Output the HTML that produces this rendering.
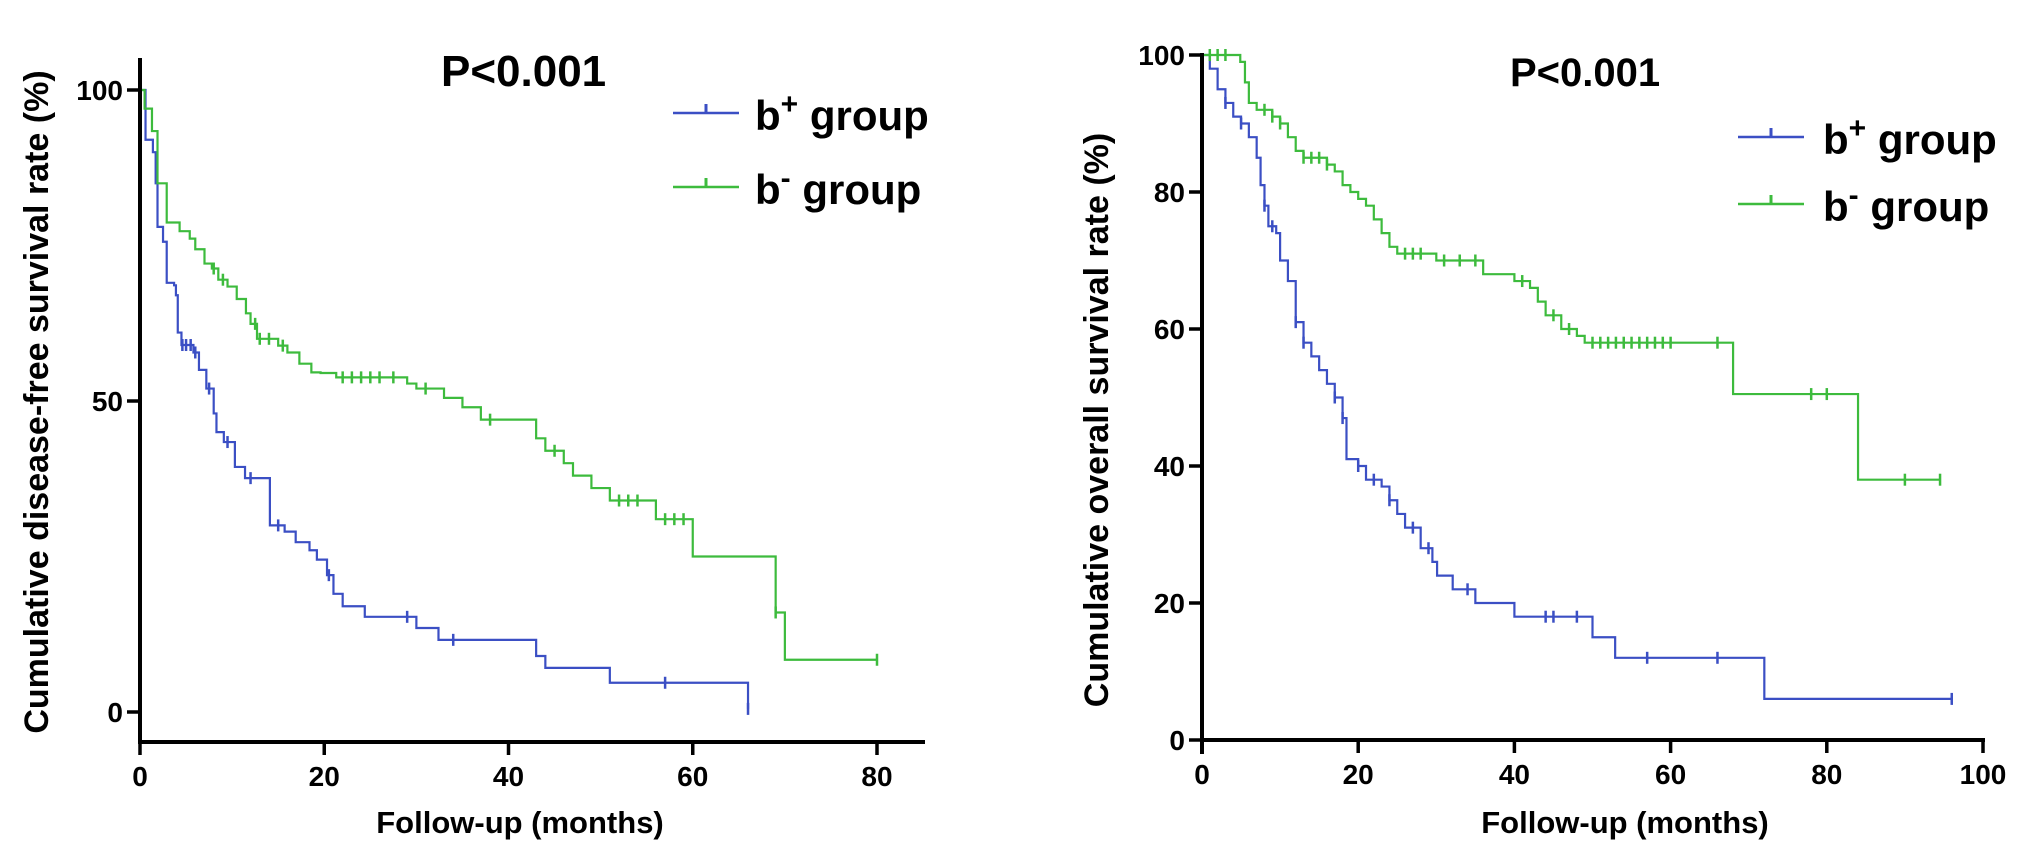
<!DOCTYPE html>
<html><head><meta charset="utf-8"><style>
html,body{margin:0;padding:0;background:#fff;}
svg{display:block;font-family:"Liberation Sans",Arial,sans-serif;font-weight:bold;}
</style></head><body>
<svg id="chart" width="2031" height="849" viewBox="0 0 2031 849" xmlns="http://www.w3.org/2000/svg">
<g id="left"></g>
<g id="right"></g>
</svg>
<script>
// ---- Left chart data (disease-free survival) ----
const dfsBlueTimes = [0.6,1.4,1.7,1.9,2.5,2.9,3.7,3.9,4.1,4.5,5.8,6.4,7.2,8,8.3,9.1,10.3,11.4,14.1,15.7,16.9,18.4,19.2,20.3,21,22,24.4,30,32.4,43,44,51,66];
const dfsBlueSurv  = [92,90,85,78,75.6,69,68.6,67,61,59,57.8,55,52,48,45,43.4,39.4,37.6,30,29,27.3,26,24.5,22,19,17,15.3,13.5,11.6,9,7.1,4.7,0.5];
const dfsBlueEnd = 66;
const dfsBlueCensor = [4.6,5,5.5,6,7.5,9.5,12,15,20.5,29,34,57,66];
const dfsGreenTimes = [0.5,1.3,1.9,2.9,4.3,5.4,6,7,7.8,8.5,9.5,10.5,11.5,12,12.7,15,16,17.3,18.6,19.6,21.3,29,30,33,35,37,43,44,46,47,49,51,56,60,69,70];
const dfsGreenSurv  = [97,93.4,85,78.7,77.3,76.1,74.4,72.1,71.3,69.5,68.4,66.4,64.1,62.4,60,58.9,57.8,56,54.6,54.5,53.8,52.8,52,50.5,49,47,44,42,40,38,36,34,31,25,16,8.4];
const dfsGreenEnd = 80;
const dfsGreenCensor = [8,9,12.5,13,14,15.5,22,23,24,25,26,27.5,31,38,45,52,53,54,57,58,59,69,80];
const dfsXTicks = [0,20,40,60,80];
const dfsYTicks = [0,50,100];
// ---- Right chart data (overall survival) ----
const osBlueTimes = [1,2,3,4,5,6,7,7.5,8,8.5,9.5,10,11,12,13,14,15,16,17,18,18.5,20,21,23,24,25,26,28,29.5,30.1,32.1,35,40,50,52.9,72];
const osBlueSurv  = [98,95,93,91,90,88,85,81,78,75,74,70,67,61,58,56,54,52,50,47,41,40,38,37,35,33,31,28,26,24,22,20,18,15,12,6];
const osBlueEnd = 96;
const osBlueCensor = [3,5,8,9,12,13,17,18,20,22,24,27,29,34,44,45,48,57,66,96];
const osGreenTimes = [4.9,5.5,6,7,9,10,11,12,13,16,17,18,19,20,21,22,23,24,25,30,36,40,42,43,44,46,48,49,68,84];
const osGreenSurv  = [99,96,93,92,91,90,88,86,85,84,83,81,80,79,78,76,74,72,71,70,68,67,66,64,62,60,59,58,50.5,38];
const osGreenEnd = 94.5;
const osGreenCensor = [1,2,3,8,9,10,13,14,15,16,26,27,28,31,33,35,41,45,47,50,51,52,53,54,55,56,57,58,59,60,66,78,80,90,94.5];
const osXTicks = [0,20,40,60,80,100];
const osYTicks = [0,20,40,60,80,100];

const NS = "http://www.w3.org/2000/svg";
const BLUE = "#3b4fc4", GREEN = "#3dbb3d";
function mk(parent, tag, attrs){ const e=document.createElementNS(NS,tag); for(const k in attrs) e.setAttribute(k,attrs[k]); parent.appendChild(e); return e; }
function survAt(times,surv,t){ let s=100; for(let i=0;i<times.length;i++){ if(times[i]<=t) s=surv[i]; } return s; }

function drawChart(g, cfg){
  const X = t => cfg.x0 + t*(cfg.x1-cfg.x0)/cfg.xMax;
  const Y = s => cfg.yZero - s*(cfg.yZero-cfg.yTop)/100;
  cfg.series.forEach(se=>{
    let d = "M"+X(0)+","+Y(100);
    for(let i=0;i<se.times.length;i++){ d += " H"+X(se.times[i])+" V"+Y(se.surv[i]); }
    d += " H"+X(se.end);
    const p = mk(g,"path",{d:d,fill:"none",stroke:se.color,"stroke-width":2.2});
    
    
    se.censor.forEach(t=>{
      const s = survAt(se.times,se.surv,t);
      const c = mk(g,"line",{x1:X(t),x2:X(t),y1:Y(s)-6,y2:Y(s)+6,stroke:se.color,"stroke-width":2.5});
      
      
    });
  });
  const ya = mk(g,"line",{x1:cfg.x0,x2:cfg.x0,y1:cfg.yAxisTop,y2:cfg.yAxisBottom,stroke:"#000","stroke-width":4});
   
  const xa = mk(g,"line",{x1:cfg.x0-2,x2:cfg.xAxisEnd,y1:cfg.xAxisY,y2:cfg.xAxisY,stroke:"#000","stroke-width":4});
   
  cfg.yTicks.forEach(v=>{
    const l = mk(g,"line",{x1:cfg.x0-13,x2:cfg.x0,y1:Y(v),y2:Y(v),stroke:"#000","stroke-width":3.5});
     
    const t = mk(g,"text",{x:cfg.x0-17,y:Y(v)+10,"text-anchor":"end","font-size":28});
    t.textContent = v;
     
  });
  cfg.xTicks.forEach(v=>{
    const l = mk(g,"line",{x1:X(v),x2:X(v),y1:cfg.xAxisY,y2:cfg.xAxisY+13,stroke:"#000","stroke-width":3.5});
     
    const t = mk(g,"text",{x:X(v),y:cfg.xAxisY+44,"text-anchor":"middle","font-size":28});
    t.textContent = v;
     
  });
  const xt = mk(g,"text",{x:cfg.xTitleX,y:833,"text-anchor":"middle","font-size":31});
  xt.textContent = "Follow-up (months)";
   
  const yt = mk(g,"text",{x:0,y:0,"text-anchor":"middle","font-size":34,transform:"translate("+cfg.yTitleX+","+cfg.yTitleY+") rotate(-90)"});
  yt.textContent = cfg.yTitle;
   
  const pv = mk(g,"text",{x:cfg.pX,y:cfg.pY,"font-size":cfg.pSize});
  pv.textContent = "P<0.001";
   
  cfg.series.forEach((se,i)=>{
    const ly = cfg.legY[i];
    const lg = mk(g,"g",{});
     
    mk(lg,"line",{x1:cfg.legX,x2:cfg.legX+cfg.legLen,y1:ly,y2:ly,stroke:se.color,"stroke-width":2.5});
    mk(lg,"line",{x1:cfg.legX+cfg.legLen/2,x2:cfg.legX+cfg.legLen/2,y1:ly-9,y2:ly,stroke:se.color,"stroke-width":3});
    const t = mk(lg,"text",{x:cfg.legTextX,y:ly+17,"font-size":42});
    const b = document.createElementNS(NS,"tspan"); b.textContent="b"; t.appendChild(b);
    const sup = document.createElementNS(NS,"tspan"); sup.setAttribute("dy","-16"); sup.setAttribute("font-size","30"); sup.textContent = se.sign; t.appendChild(sup);
    const rest = document.createElementNS(NS,"tspan"); rest.setAttribute("dy","16"); rest.textContent = se.sign==="+" ? " group" : "  group"; t.appendChild(rest);
  });
}

drawChart(document.getElementById("left"),{
  x0:140, x1:877, xMax:80, yTop:90, yZero:712, yAxisTop:58, yAxisBottom:744, xAxisY:742, xAxisEnd:925,
  xTicks:dfsXTicks, yTicks:dfsYTicks, xTitleX:520, yTitleX:48, yTitleY:402,
  yTitle:"Cumulative disease-free survival rate (%)", pX:441, pY:86, pSize:44,
  legX:673, legLen:66, legTextX:755, legY:[113,187],
  series:[
    {name:"b-plus",sign:"+",color:BLUE,times:dfsBlueTimes,surv:dfsBlueSurv,end:dfsBlueEnd,censor:dfsBlueCensor},
    {name:"b-minus",sign:"-",color:GREEN,times:dfsGreenTimes,surv:dfsGreenSurv,end:dfsGreenEnd,censor:dfsGreenCensor}
  ]
});
drawChart(document.getElementById("right"),{
  x0:1202, x1:1983, xMax:100, yTop:55, yZero:740, yAxisTop:53, yAxisBottom:754, xAxisY:740, xAxisEnd:1985,
  xTicks:osXTicks, yTicks:osYTicks, xTitleX:1625, yTitleX:1108, yTitleY:420,
  yTitle:"Cumulative overall survival rate (%)", pX:1510, pY:86, pSize:40,
  legX:1738, legLen:66, legTextX:1823, legY:[137,204],
  series:[
    {name:"b-plus",sign:"+",color:BLUE,times:osBlueTimes,surv:osBlueSurv,end:osBlueEnd,censor:osBlueCensor},
    {name:"b-minus",sign:"-",color:GREEN,times:osGreenTimes,surv:osGreenSurv,end:osGreenEnd,censor:osGreenCensor}
  ]
});
</script>
</body></html>
